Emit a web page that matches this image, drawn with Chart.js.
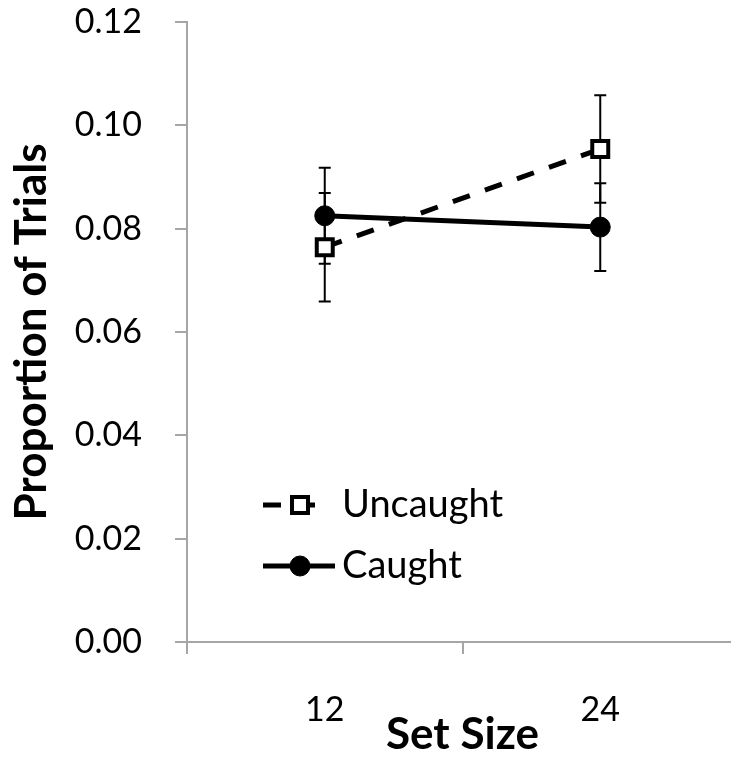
<!DOCTYPE html>
<html>
<head>
<meta charset="utf-8">
<script src="https://cdn.jsdelivr.net/npm/chart.js@4"></script>
<style>
  html, body { margin: 0; padding: 0; background: #fff; overflow: hidden; }
  #wrap { width: 745px; height: 759px; }
</style>
</head>
<body>
<div id="wrap"><canvas id="grafico"></canvas></div>
<script>
// datos
const setSizes = ['12', '24'];
const uncaught = [0.0764, 0.0954];
const uncaughtErr = [0.0105, 0.0104];
const caught = [0.0825, 0.0803];
const caughtErr = [0.0093, 0.0085];
const yTicks = [0, 0.02, 0.04, 0.06, 0.08, 0.10, 0.12];

const axisGray = '#a6a6a6';
const errores = [uncaughtErr, caughtErr];

// barras de error, debajo de los marcadores
const errorBars = {
    id: 'errorBars',
    beforeDatasetsDraw(chart) {
        const ctx = chart.ctx;
        const y = chart.scales.y;
        ctx.save();
        ctx.strokeStyle = '#000';
        ctx.lineWidth = 2;
        chart.data.datasets.forEach((ds, i) => {
            const meta = chart.getDatasetMeta(i);
            meta.data.forEach((pt, j) => {
                const v = ds.data[j];
                const e = errores[i][j];
                const top = y.getPixelForValue(v + e);
                const bot = y.getPixelForValue(v - e);
                ctx.beginPath();
                ctx.moveTo(pt.x, top); ctx.lineTo(pt.x, bot);
                ctx.moveTo(pt.x - 6, top); ctx.lineTo(pt.x + 6, top);
                ctx.moveTo(pt.x - 6, bot); ctx.lineTo(pt.x + 6, bot);
                ctx.stroke();
            });
        });
        ctx.restore();
    }
};

// leyenda dentro del area del grafico
const leyenda = {
    id: 'leyenda',
    afterDraw(chart) {
        const ctx = chart.ctx;
        const filas = [505, 566];
        ctx.save();
        chart.data.datasets.forEach((ds, i) => {
            const yy = filas[i];
            const x0 = 263, x1 = i === 0 ? 322 : 335, xm = 300;
            ctx.strokeStyle = ds.borderColor;
            ctx.lineWidth = ds.borderWidth;
            ctx.setLineDash(ds.borderDash || []);
            ctx.beginPath();
            ctx.moveTo(x0, yy); ctx.lineTo(x1, yy);
            ctx.stroke();
            ctx.setLineDash([]);
            ctx.fillStyle = ds.pointBackgroundColor;
            ctx.strokeStyle = ds.pointBorderColor;
            ctx.lineWidth = ds.pointBorderWidth;
            ctx.beginPath();
            if (ds.pointStyle === 'rect') {
                const s = ds.pointRadius * Math.SQRT1_2;
                ctx.rect(xm - s, yy - s, 2 * s, 2 * s);
            } else {
                ctx.arc(xm, yy, ds.pointRadius, 0, Math.PI * 2);
            }
            ctx.fill();
            ctx.stroke();
            ctx.fillStyle = '#000';
            ctx.font = '38px Lato';
            ctx.textBaseline = 'middle';
            ctx.textAlign = 'left';
            ctx.fillText(ds.label, 342, yy);
        });
        ctx.restore();
    }
};

new Chart(document.getElementById('grafico'), {
    type: 'line',
    data: {
        labels: setSizes,
        datasets: [{
            label: 'Uncaught',
            data: uncaught,
            borderColor: '#000',
            borderWidth: 5,
            borderDash: [18, 16],
            pointStyle: 'rect',
            pointRadius: 11.3,
            pointBorderWidth: 4,
            pointBackgroundColor: '#fff',
            pointBorderColor: '#000'
        }, {
            label: 'Caught',
            data: caught,
            borderColor: '#000',
            borderWidth: 5,
            pointStyle: 'circle',
            pointRadius: 10,
            pointBorderWidth: 1,
            pointBackgroundColor: '#000',
            pointBorderColor: '#000'
        }]
    },
    options: {
        responsive: true,
        maintainAspectRatio: false,
        animation: false,
        layout: { autoPadding: false, padding: { top: 22, right: 7, bottom: 0, left: 0 } },
        plugins: {
            legend: { display: false },
            tooltip: { enabled: false }
        },
        scales: {
            x: {
                type: 'category',
                offset: true,
                afterFit: s => {
                    s.height = 117;
                    s.paddingLeft = 0;
                    s.paddingRight = 0;
                },
                border: { color: axisGray, width: 2 },
                grid: { offset: true, drawOnChartArea: false, color: axisGray, lineWidth: 2, tickLength: 12 },
                ticks: { color: '#000', padding: 36, font: { family: 'Lato', size: 34 } },
                title: {
                    display: true,
                    text: 'Set Size',
                    color: '#000',
                    font: { family: 'Lato', size: 44, weight: 'bold', lineHeight: 1 },
                    padding: { top: 0, bottom: 2 }
                }
            },
            y: {
                min: 0,
                max: 0.12,
                afterFit: s => {
                    s.width = 187;
                    s.paddingTop = 20;
                    s.paddingBottom = 20;
                },
                afterBuildTicks: s => { s.ticks = yTicks.map(v => ({ value: v })); },
                border: { color: axisGray, width: 2 },
                grid: { drawOnChartArea: false, color: axisGray, lineWidth: 2, tickLength: 12 },
                ticks: {
                    color: '#000',
                    padding: 33,
                    font: { family: 'Lato', size: 34 },
                    callback: v => v.toFixed(2)
                },
                title: {
                    display: true,
                    text: 'Proportion of Trials',
                    color: '#000',
                    font: { family: 'Lato', size: 44, weight: 'bold', lineHeight: 1 },
                    padding: { top: 10, bottom: 0 }
                }
            }
        }
    },
    plugins: [errorBars, leyenda]
});
</script>
</body>
</html>
